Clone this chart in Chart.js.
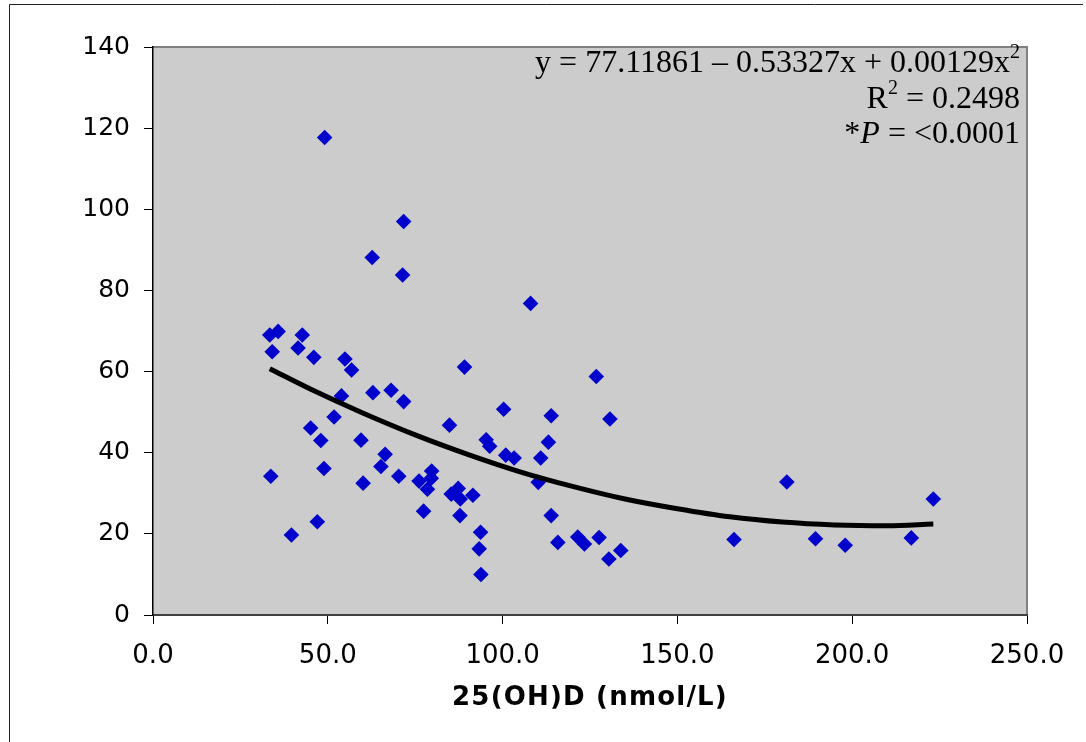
<!DOCTYPE html>
<html><head><meta charset="utf-8">
<script src="https://cdn.jsdelivr.net/npm/chart.js@4/dist/chart.umd.min.js"></script>
<style>html,body{margin:0;padding:0;background:#fff;}canvas{display:block;}</style>
</head><body>
<canvas id="c" width="1086" height="742"></canvas>
<script>
// 25(OH)D values (x) and outcome values (y)
const vitD = [49.1, 71.7, 62.7, 71.4, 108.0, 33.4, 35.8, 42.7, 34.1, 41.5, 46.0, 54.9, 56.8, 89.1, 53.9, 62.9, 68.1, 71.7, 51.8, 45.1, 48.0, 59.5, 84.8, 100.3, 113.9, 126.8, 113.1, 95.3, 96.3, 100.9, 103.3, 110.9, 110.2, 66.4, 65.2, 48.9, 33.7, 60.1, 70.3, 79.7, 79.6, 76.1, 78.5, 85.3, 87.3, 87.9, 91.5, 77.4, 87.8, 113.9, 47.0, 39.6, 93.7, 93.3, 93.8, 115.8, 121.5, 123.4, 127.6, 130.7, 130.4, 133.8, 166.2, 181.3, 189.5, 198.0, 216.9, 223.2];
const outcome = [117.7, 97.0, 88.1, 83.8, 76.8, 69.0, 69.9, 69.0, 64.9, 65.8, 63.5, 63.1, 60.4, 61.1, 54.0, 54.8, 55.4, 52.6, 48.8, 46.1, 43.0, 43.1, 46.8, 50.7, 49.1, 58.8, 42.6, 43.2, 41.6, 39.4, 38.7, 38.7, 32.7, 39.6, 36.6, 36.1, 34.2, 32.5, 34.2, 35.5, 33.7, 33.0, 31.0, 29.8, 31.2, 28.6, 29.5, 25.6, 24.5, 24.5, 23.0, 19.7, 20.4, 16.3, 10.0, 17.9, 19.2, 17.5, 19.1, 48.3, 13.8, 15.9, 18.6, 32.8, 18.8, 17.2, 19.0, 28.6];
// trend line points
const trendX = [33.4, 45, 60, 75, 90, 105, 120, 135, 150, 165, 180, 195, 210, 223.2];
const trendY = [60.7, 55.7, 49.8, 44.4, 39.6, 35.3, 31.7, 28.6, 26.2, 24.2, 22.9, 22.2, 22.0, 22.4];
const xTickLabels = ['0.0', '50.0', '100.0', '150.0', '200.0', '250.0'];
const yTickLabels = ['0', '20', '40', '60', '80', '100', '120', '140'];
const xAxisTitle = '25(OH)D (nmol/L)';
const eqLine1 = [['y = 77.11861 \u2013 0.53327x + 0.00129x', 'n'], ['2', 's']];
const eqLine2 = [['R', 'n'], ['2', 's'], [' = 0.2498', 'n']];
const eqLine3 = [['*', 'n'], ['P', 'i'], [' = <0.0001', 'n']];

const scatterPts = vitD.map((x, i) => ({x: x, y: outcome[i]}));
const trendPts = trendX.map((x, i) => ({x: x, y: trendY[i]}));

const framePlugin = {
  id: 'frame',
  beforeDraw(chart) {
    const {ctx, chartArea: a} = chart;
    ctx.save();
    ctx.fillStyle = '#fff';
    ctx.fillRect(0, 0, chart.width, chart.height);
    ctx.fillStyle = '#CCCCCC';
    ctx.fillRect(a.left, a.top, a.right - a.left, a.bottom - a.top);
    ctx.strokeStyle = '#808080';
    ctx.lineWidth = 2;
    ctx.beginPath();
    ctx.moveTo(a.left, a.top);
    ctx.lineTo(a.right, a.top);
    ctx.lineTo(a.right, a.bottom);
    ctx.stroke();
    ctx.restore();
  },
  afterDraw(chart) {
    const ctx = chart.ctx;
    const a = chart.chartArea;
    ctx.save();
    // outer frame
    ctx.strokeStyle = '#222';
    ctx.lineWidth = 1;
    ctx.beginPath();
    ctx.moveTo(9.5, 742);
    ctx.lineTo(9.5, 4.5);
    ctx.lineTo(1083, 4.5);
    ctx.stroke();
    // x-axis title
    ctx.fillStyle = '#000';
    ctx.font = 'bold 26px "DejaVu Sans"';
    ctx.textAlign = 'center';
    ctx.textBaseline = 'middle';
    if ('letterSpacing' in ctx) ctx.letterSpacing = '1.2px';
    ctx.fillText(xAxisTitle, (a.left + a.right) / 2, 698);
    if ('letterSpacing' in ctx) ctx.letterSpacing = '0px';
    // equation text
    const fonts = {n: '32px "Liberation Serif"', s: '20px "Liberation Serif"', i: 'italic 32px "Liberation Serif"'};
    const lines = [[eqLine1, 72], [eqLine2, 108], [eqLine3, 143]];
    const right = 1020;
    ctx.textBaseline = 'alphabetic';
    ctx.textAlign = 'left';
    lines.forEach(([segs, base]) => {
      let total = 0;
      segs.forEach(([t, f]) => { ctx.font = fonts[f]; total += ctx.measureText(t).width; });
      let x = right - total;
      segs.forEach(([t, f]) => {
        ctx.font = fonts[f];
        ctx.fillText(t, x, f === 's' ? base - 14 : base);
        x += ctx.measureText(t).width;
      });
    });
    ctx.restore();
  }
};

new Chart(document.getElementById('c'), {
  type: 'scatter',
  data: {
    datasets: [
      {
        type: 'line',
        data: trendPts,
        borderColor: '#000',
        borderWidth: 5,
        pointRadius: 0,
        tension: 0.4,
        cubicInterpolationMode: 'monotone',
        fill: false,
        order: 0
      },
      {
        data: scatterPts,
        pointStyle: 'rectRot',
        pointRadius: 7.8,
        pointHoverRadius: 7.8,
        backgroundColor: '#0000CC',
        borderColor: '#0000CC',
        borderWidth: 0,
        order: 1
      }
    ]
  },
  options: {
    responsive: false,
    animation: false,
    events: [],
    layout: {padding: {left: 0, right: 59, top: 47, bottom: 0}},
    plugins: {legend: {display: false}, tooltip: {enabled: false}},
    scales: {
      x: {
        type: 'linear',
        min: 0, max: 250,
        afterFit(s) { s.height = 127; },
        afterBuildTicks(s) { s.ticks = xTickLabels.map(l => ({value: parseFloat(l)})); },
        ticks: {
          callback: (v, i) => xTickLabels[i],
          color: '#000',
          font: {family: '"DejaVu Sans"', size: 26},
          padding: 17,
          maxRotation: 0,
          autoSkip: false
        },
        grid: {display: true, drawOnChartArea: false, drawTicks: true, tickLength: 9, color: '#000', tickWidth: 1},
        border: {display: true, color: '#404040', width: 2},
        title: {display: false}
      },
      y: {
        type: 'linear',
        min: 0, max: 140,
        afterFit(s) { s.width = 153; },
        afterBuildTicks(s) { s.ticks = yTickLabels.map(l => ({value: parseFloat(l)})); },
        ticks: {
          callback: (v, i) => yTickLabels[i],
          color: '#000',
          font: {family: '"DejaVu Sans"', size: 25},
          padding: 14,
          autoSkip: false
        },
        grid: {display: true, drawOnChartArea: false, drawTicks: true, tickLength: 9, color: '#000', tickWidth: 1},
        border: {display: true, color: '#000', width: 1.5}
      }
    }
  },
  plugins: [framePlugin]
});
</script>
</body></html>
